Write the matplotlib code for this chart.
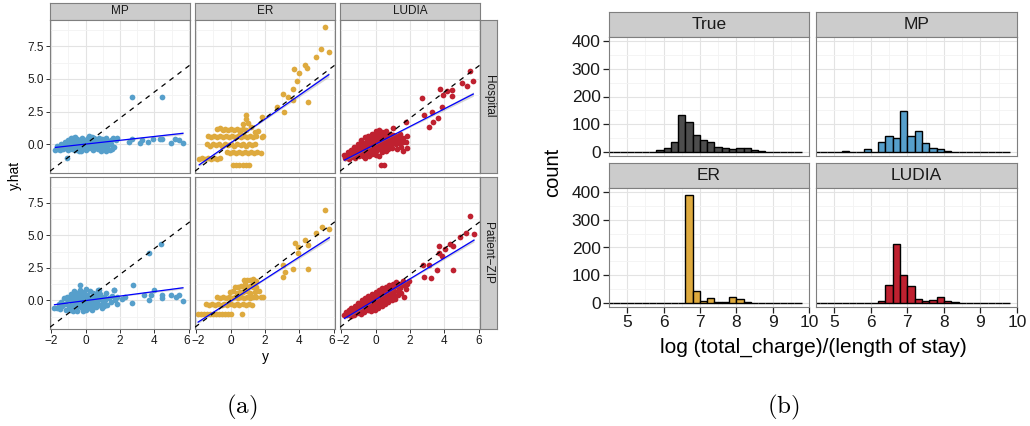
import numpy as np
import matplotlib.pyplot as plt
from matplotlib.ticker import MultipleLocator
from matplotlib.transforms import ScaledTranslation

plt.rcParams['font.family'] = ['Liberation Sans', 'DejaVu Sans']
plt.rcParams['mathtext.fontset'] = 'cm'

# ---------------- datos (a): y vs y.hat ----------------
methods = ['MP', 'ER', 'LUDIA']
levels = ['Hospital', 'Patient\u2212ZIP']
colors = {'True': '#4D4D4D', 'MP': '#569FCB', 'ER': '#DEAA3E', 'LUDIA': '#BF2130'}

mp_hospital = [(-1.75, -0.42), (-1.6, -0.35), (-1.5, -0.45), (-1.4, -0.2), (-1.3, -0.4), (-1.25, -0.1),
               (-1.15, -0.3), (-1.05, 0.1), (-1.0, -0.45), (-0.95, -0.2), (-0.9, 0.25), (-0.85, 0.0),
               (-0.8, -0.35), (-0.75, 0.45), (-0.7, -0.15), (-0.65, 0.2), (-0.6, -0.45), (-0.55, 0.05),
               (-0.5, 0.4), (-0.45, -0.25), (-0.4, 0.15), (-0.35, -0.5), (-0.3, 0.3), (-0.25, -0.05),
               (-0.2, 0.5), (-0.15, -0.3), (-0.1, 0.1), (-0.05, 0.35), (0.0, -0.45), (0.05, -0.1),
               (0.1, 0.25), (0.15, 0.5), (0.2, -0.3), (0.25, 0.05), (0.3, 0.4), (0.35, -0.2), (0.4, 0.2),
               (0.45, -0.45), (0.5, 0.45), (0.55, 0.0), (0.6, -0.25), (0.65, 0.3), (0.7, 0.1), (0.75, -0.4),
               (0.8, 0.45), (0.85, -0.1), (0.9, 0.2), (0.95, 0.4), (1.0, -0.3), (1.05, 0.0), (1.1, 0.3),
               (1.2, 0.45), (1.25, -0.15), (1.3, 0.15), (1.4, -0.45), (1.45, 0.35), (1.5, 0.05), (1.6, 0.45),
               (1.65, -0.2), (1.75, 0.3), (1.85, 0.5), (-1.0, 0.35), (-0.6, 0.55), (0.2, 0.6), (-1.2, 0.2),
               (-1.45, 0.05), (0.9, -0.5), (-0.25, -0.55), (0.4, 0.55), (1.2, -0.5), (-1.1, -1.04),
               (-1.65, -0.1), (-0.1, -0.2), (0.65, -0.05), (1.55, -0.4), (-0.85, 0.5),
               (2.7, 3.64), (4.45, 3.64), (2.7, 0.38), (3.14, 0.13), (3.62, 0.2), (3.9, 0.38), (4.3, 0.38),
               (4.45, 0.4), (4.97, 0.13), (5.2, 0.38), (5.45, 0.33), (5.65, 0.08), (3.3, 0.3), (2.5, 0.15)]

er_hospital = [(-0.8, 1.15), (-0.62, 1.22), (-0.45, 1.1), (-0.3, 1.18), (-0.12, 1.1), (0.05, 1.2), (0.22, 1.12),
               (0.4, 1.2), (0.55, 1.1), (0.72, 1.18), (0.9, 1.12),
               (-1.3, 0.6), (-1.12, 0.52), (-0.95, 0.62), (-0.78, 0.55), (-0.6, 0.62), (-0.42, 0.52),
               (-0.25, 0.6), (-0.08, 0.55), (0.1, 0.62), (0.28, 0.52), (0.45, 0.6), (0.62, 0.55), (0.8, 0.62),
               (0.98, 0.52), (1.15, 0.6), (1.3, 0.55), (1.5, 0.6), (1.85, 0.58),
               (-1.35, -0.02), (-1.18, -0.1), (-1.0, 0.0), (-0.82, -0.08), (-0.65, 0.02), (-0.48, -0.1),
               (-0.3, 0.0), (-0.12, -0.08), (0.05, 0.02), (0.22, -0.1), (0.4, 0.0), (0.58, -0.08), (0.75, 0.02),
               (0.92, -0.1), (1.1, -0.02), (1.25, -0.08), (1.42, -0.02),
               (-0.2, -0.6), (-0.02, -0.68), (0.15, -0.6), (0.32, -0.66), (0.5, -0.58), (0.68, -0.66),
               (0.85, -0.6), (1.02, -0.68), (1.2, -0.6), (1.38, -0.64), (1.55, -0.6), (1.78, -0.64),
               (-1.82, -1.1), (-1.65, -1.05), (-1.48, -1.12), (-1.3, -1.06), (-1.12, -1.12), (-0.95, -1.05),
               (-0.78, -1.1), (-0.62, -1.06),
               (0.15, -1.58), (0.33, -1.55), (0.52, -1.6), (0.7, -1.56), (0.9, -1.6), (1.1, -1.56),
               (0.89, 2.24), (0.89, 1.9), (1.03, 1.6), (0.75, 1.55), (1.2, 1.3), (1.84, 2.11), (0.55, 0.95),
               (1.4, 0.9), (1.6, 1.05), (1.9, 0.6),
               (5.47, 8.93), (5.24, 7.28), (5.7, 7.02), (4.93, 6.69), (4.31, 6.06), (4.45, 5.8), (3.69, 5.75),
               (3.95, 5.47), (3.83, 4.86), (3.64, 4.2), (3.06, 3.84), (3.35, 3.64), (3.64, 3.38), (4.5, 3.26),
               (2.71, 2.82), (3.09, 2.49)]

ludia_hospital = [(-1.8, -0.82), (-1.75, -1.02), (-1.62, -0.6), (-1.58, -0.9), (-1.55, -1.12), (-1.42, -0.42),
                  (-1.38, -0.72), (-1.4, -1.0), (-1.22, -0.2), (-1.18, -0.52), (-1.25, -0.8), (-1.2, -1.05),
                  (-1.02, 0.02), (-0.98, -0.3), (-1.05, -0.62), (-0.95, -0.88), (-0.82, 0.3), (-0.78, 0.02),
                  (-0.85, -0.28), (-0.8, -0.6), (-0.75, -0.92), (-0.62, 0.52), (-0.58, 0.2), (-0.6, -0.1),
                  (-0.65, -0.42), (-0.55, -0.7), (-0.6, -1.02), (-0.42, 0.62), (-0.38, 0.3), (-0.4, 0.0),
                  (-0.45, -0.32), (-0.35, -0.6), (-0.4, -0.9), (-0.22, 0.8), (-0.18, 0.5), (-0.2, 0.2),
                  (-0.25, -0.1), (-0.15, -0.42), (-0.2, -0.72), (0.02, 1.0), (-0.02, 0.7), (0.0, 0.4),
                  (0.05, 0.1), (-0.05, -0.2), (0.0, -0.5), (0.02, -0.8), (0.22, 1.1), (0.18, 0.8), (0.2, 0.5),
                  (0.25, 0.2), (0.15, -0.1), (0.2, -0.4), (0.22, -0.92), (0.38, 0.9), (0.42, 0.6), (0.4, 0.3),
                  (0.45, 0.0), (0.35, -0.3), (0.4, -0.62), (0.62, 1.0), (0.58, 0.7), (0.6, 0.4), (0.65, 0.1),
                  (0.55, -0.2), (0.6, -0.5), (0.82, 0.8), (0.78, 0.5), (0.8, 0.2), (0.85, -0.1), (0.75, -0.4),
                  (1.01, 1.22), (1.02, 0.7), (0.98, 0.4), (1.05, 0.1), (0.95, -0.3), (1.2, 0.6), (1.22, 0.3),
                  (1.18, 0.0), (1.25, -0.4), (1.42, 0.8), (1.38, 0.4), (1.4, 0.1), (1.45, -0.2), (1.6, 0.5),
                  (1.62, 0.2), (1.58, -0.5), (1.8, 0.6), (1.78, 0.15), (1.82, -0.3), (1.79, 1.73),
                  (0.33, -1.58), (0.52, -1.58),
                  (5.48, 5.6), (5.67, 4.86), (4.99, 4.66), (5.28, 4.45), (3.73, 4.2), (4.12, 4.1), (4.45, 4.15),
                  (3.92, 3.77), (4.41, 3.72), (2.72, 3.51), (3.83, 2.82), (2.8, 2.24), (3.63, 1.98), (3.34, 1.68),
                  (3.09, 1.35), (3.3, 2.5)]

mp_zip = [(-1.8, -0.6), (-1.65, -0.55), (-1.55, -0.3), (-1.5, -0.65), (-1.4, -0.1), (-1.35, -0.45), (-1.25, 0.15),
          (-1.2, -0.3), (-1.15, -0.7), (-1.05, 0.3), (-1.0, 0.0), (-0.98, -0.4), (-0.9, -0.75), (-0.85, 0.5),
          (-0.82, 0.2), (-0.8, -0.15), (-0.75, -0.5), (-0.68, 0.7), (-0.65, 0.35), (-0.62, 0.0), (-0.6, -0.3),
          (-0.55, -0.65), (-0.5, -0.85), (-0.48, 0.55), (-0.45, 0.15), (-0.42, -0.15), (-0.38, -0.45),
          (-0.3, 0.8), (-0.28, 0.4), (-0.25, 0.05), (-0.22, -0.3), (-0.2, -0.6), (-0.15, -0.85), (-0.1, 0.65),
          (-0.08, 0.25), (-0.05, -0.1), (0.0, -0.45), (0.02, 0.9), (0.05, -0.75), (0.1, 0.45), (0.12, 0.1),
          (0.15, -0.25), (0.2, -0.55), (0.25, 0.75), (0.3, 0.3), (0.32, -0.05), (0.35, -0.4), (0.4, -0.7),
          (0.45, 0.55), (0.5, 0.15), (0.55, -0.2), (0.6, -0.5), (0.65, 0.35), (0.7, 0.8), (0.75, 0.0),
          (0.8, -0.35), (0.85, 0.5), (0.9, 0.15), (0.95, -0.6), (1.0, -0.15), (1.05, 0.3), (1.15, 0.0),
          (1.2, 0.55), (1.25, -0.35), (1.35, 0.2), (1.45, -0.1), (1.55, 0.35), (1.65, 0.79), (1.7, 0.0),
          (1.8, -0.3), (1.85, 0.3), (-0.33, 1.22), (0.77, 0.79), (1.64, 0.79),
          (-1.1, 0.1), (-0.35, 0.25), (0.55, 0.5), (1.1, -0.45), (-0.7, -0.8),
          (2.76, 1.22), (2.72, -0.18), (3.97, 0.79), (3.68, 0.0), (3.8, 0.38), (4.43, 0.38), (4.45, 0.15),
          (4.97, 0.38), (5.26, 0.25), (5.45, 0.38), (5.65, -0.05), (4.39, 4.33), (3.66, 3.66), (2.3, 0.3),
          (2.1, 0.1), (3.4, 0.4)]

er_zip = [(0.78, 1.55), (0.95, 1.6), (1.12, 1.55), (1.3, 1.62), (1.45, 1.5),
          (0.25, 1.05), (0.42, 1.0), (0.6, 1.1), (0.78, 1.05), (0.95, 0.98), (1.12, 1.08), (1.3, 1.0),
          (1.48, 1.05), (1.65, 0.7), (0.85, 1.3), (1.32, 1.3),
          (-0.05, 0.62), (0.15, 0.7), (0.35, 0.6), (0.55, 0.68), (0.75, 0.62), (0.95, 0.7), (1.15, 0.6),
          (1.4, 0.65),
          (-0.8, 0.25), (-0.62, 0.22), (-0.45, 0.28), (-0.28, 0.22), (-0.1, 0.28), (0.08, 0.22), (0.25, 0.28),
          (0.42, 0.22), (0.6, 0.28), (0.78, 0.22), (0.95, 0.28), (1.12, 0.22), (1.3, 0.28), (1.5, 0.25),
          (1.9, 0.25), (1.75, 0.3),
          (-1.4, -0.3), (-1.22, -0.32), (-1.05, -0.28), (-0.88, -0.32), (-0.7, -0.28), (-0.52, -0.32),
          (-0.35, -0.28), (-0.18, -0.32), (0.0, -0.28), (0.18, -0.32), (0.35, -0.28), (0.52, -0.32),
          (0.7, -0.28), (0.88, -0.32), (1.05, -0.28), (1.25, -0.32),
          (-1.88, -1.07), (-1.7, -1.05), (-1.52, -1.08), (-1.35, -1.05), (-1.18, -1.08), (-1.0, -1.05),
          (-0.82, -1.08), (-0.65, -1.05), (-0.48, -1.08), (-0.3, -1.05), (-0.12, -1.08), (0.05, -1.05),
          (0.68, -1.07),
          (5.47, 6.95), (5.28, 5.62), (5.73, 5.47), (4.95, 5.22), (4.31, 4.66), (3.73, 4.45), (4.5, 4.27),
          (3.93, 4.1), (3.89, 3.64), (3.06, 2.75), (3.64, 2.44), (4.5, 2.42), (3.15, 2.16), (3.06, 1.81)]

ludia_zip = [(-1.8, -1.1), (-1.7, -0.9), (-1.65, -1.15), (-1.55, -0.75), (-1.5, -1.0), (-1.42, -1.18),
             (-1.4, -0.55), (-1.32, -0.85), (-1.25, -1.1), (-1.2, -0.4), (-1.15, -0.7), (-1.08, -0.95),
             (-1.0, -0.2), (-0.98, -0.5), (-0.92, -0.8), (-0.85, -1.05), (-0.8, 0.0), (-0.78, -0.32),
             (-0.72, -0.62), (-0.65, -0.9), (-0.6, 0.15), (-0.58, -0.15), (-0.52, -0.45), (-0.45, -0.75),
             (-0.42, 0.35), (-0.4, 0.05), (-0.35, -0.25), (-0.3, -0.55), (-0.25, -0.85), (-0.22, 0.5),
             (-0.2, 0.2), (-0.15, -0.1), (-0.1, -0.4), (-0.05, -0.7), (0.0, 0.65), (0.02, 0.35), (0.05, 0.05),
             (0.1, -0.25), (0.15, -0.55), (0.2, 0.8), (0.22, 0.5), (0.25, 0.2), (0.3, -0.1), (0.35, -0.4),
             (0.4, 0.95), (0.42, 0.65), (0.45, 0.35), (0.5, 0.05), (0.55, -0.25), (0.6, 1.05), (0.62, 0.75),
             (0.65, 0.45), (0.7, 0.15), (0.75, -0.15), (0.8, 1.2), (0.82, 0.9), (0.85, 0.6), (0.9, 0.3),
             (0.95, 0.0), (1.0, 1.3), (1.02, 1.0), (1.05, 0.7), (1.1, 0.4), (1.15, 0.1), (1.2, 1.4),
             (1.22, 1.1), (1.28, 0.75), (1.32, 0.45), (1.4, 1.3), (1.42, 0.95), (1.5, 0.6), (1.6, 1.5),
             (1.62, 1.15), (1.65, 0.25), (1.75, 0.9), (1.8, 1.3), (1.94, 1.53),
             (5.48, 6.49), (5.24, 5.22), (5.71, 5.11), (4.89, 4.86), (4.31, 4.35), (4.47, 4.2), (3.69, 4.2),
             (4.02, 3.94), (3.69, 3.64), (3.83, 3.44), (3.11, 2.72), (2.76, 2.72), (3.57, 2.37), (4.47, 2.32),
             (2.8, 1.78), (3.2, 1.73)]

scatter_data = [[mp_hospital, er_hospital, ludia_hospital],
                [mp_zip, er_zip, ludia_zip]]

# lm fit per panel: (intercept, slope, ribbon half-width at the ends)
fits = [[(0.01, 0.146, 0.10), (0.09, 0.917, 0.18), (0.006, 0.676, 0.16)],
        [(-0.016, 0.175, 0.09), (-0.065, 0.854, 0.16), (0.053, 0.803, 0.14)]]

# ---------------- datos (b): histogramas ----------------
hist_panels = ['True', 'MP', 'ER', 'LUDIA']
bin_left = [4.4, 4.6, 4.8, 5.0, 5.2, 5.4, 5.6, 5.8, 6.0, 6.2, 6.4, 6.6, 6.8, 7.0,
            7.2, 7.4, 7.6, 7.8, 8.0, 8.2, 8.4, 8.6, 8.8, 9.0, 9.2, 9.4, 9.6]
bin_width = 0.2
counts = {
    'True':  [0, 0, 0, 0, 0, 0, 0, 7, 14, 37, 135, 108, 60, 42, 38, 17, 14, 12, 15, 16, 6, 3, 1, 1, 0, 1, 0],
    'MP':    [0, 0, 2, 0, 3, 0, 0, 11, 1, 35, 59, 49, 147, 57, 76, 34, 14, 12, 5, 1, 1, 0, 1, 0, 1, 0, 0],
    'ER':    [0, 0, 0, 0, 0, 0, 0, 0, 0, 0, 0, 390, 43, 7, 17, 3, 3, 22, 15, 5, 2, 2, 1, 0, 1, 1, 0],
    'LUDIA': [0, 0, 0, 0, 0, 0, 0, 0, 1, 7, 66, 214, 100, 62, 14, 6, 12, 23, 7, 5, 1, 1, 0, 1, 0, 0, 0],
}

W, H = 1030, 426
fig = plt.figure(figsize=(W / 100, H / 100), dpi=100)

BORDER = '#7F7F7F'
STRIP = '#CCCCCC'


def add_ax(x0, y0, x1, y1):
    """Ejes en coordenadas de pixel (origen arriba a la izquierda)."""
    return fig.add_axes([x0 / W, 1 - y1 / H, (x1 - x0) / W, (y1 - y0) / H])


def strip(x0, y0, x1, y1, text, size, rot=0):
    ax = add_ax(x0, y0, x1, y1)
    ax.set_facecolor(STRIP)
    for s in ax.spines.values():
        s.set_color(BORDER)
        s.set_linewidth(0.8)
    ax.set_xticks([])
    ax.set_yticks([])
    ax.text(0.5, 0.5, text, transform=ax.transAxes, ha='center', va='center',
            size=size, rotation=rot, color='#1A1A1A')


def style_panel(ax):
    ax.set_facecolor('white')
    for s in ax.spines.values():
        s.set_color(BORDER)
        s.set_linewidth(0.8)
    ax.grid(True, which='major', color='#E3E3E3', lw=0.8)
    ax.grid(True, which='minor', color='#F3F3F3', lw=0.6)
    ax.set_axisbelow(True)
    ax.tick_params(which='minor', length=0)


# ---------------- (a) ----------------
cols_a = [(50, 190), (195, 335), (340, 480)]
rows_a = [(20, 173), (177, 329)]

for j, m in enumerate(methods):
    strip(cols_a[j][0], 3, cols_a[j][1], 20, m, 8.5)
for i, lev in enumerate(levels):
    strip(480, rows_a[i][0], 497, rows_a[i][1], lev, 8.5, rot=-90)

for i in range(2):
    for j, m in enumerate(methods):
        ax = add_ax(cols_a[j][0], rows_a[i][0], cols_a[j][1], rows_a[i][1])
        style_panel(ax)
        pts = np.array(scatter_data[i][j])
        x, y = pts[:, 0], pts[:, 1]
        ax.scatter(x, y, s=17, color=colors[m], linewidths=0, zorder=2)

        b0, b1, rib = fits[i][j]
        xs = np.linspace(x.min(), x.max(), 50)
        xm = x.mean()
        half = rib * np.sqrt(0.08 + ((xs - xm) / (x.max() - xm)) ** 2)
        ax.fill_between(xs, b0 + b1 * xs - half, b0 + b1 * xs + half, color='#999999',
                        alpha=0.4, lw=0, zorder=3)
        ax.plot(xs, b0 + b1 * xs, color='blue', lw=0.9, zorder=4)
        ax.axline((0, 0), slope=1, color='black', lw=0.9, ls=(0, (4, 4)), zorder=5)

        ax.set_xlim(-2.06, 6.06)
        ax.set_ylim(-2.2, 9.5)
        ax.set_xticks([-2, 0, 2, 4, 6])
        ax.xaxis.set_minor_locator(MultipleLocator(1))
        ax.set_yticks([0, 2.5, 5, 7.5])
        ax.yaxis.set_minor_locator(MultipleLocator(1.25))
        ax.tick_params(which='major', length=3, width=0.7, color='#333333',
                       labelsize=8.5, pad=1.5, labelcolor='#1A1A1A')
        if i == 0:
            ax.tick_params(axis='x', which='major', length=0, labelbottom=False)
        else:
            # pull apart the "6" and "-2" labels where two panels meet
            ticks = ax.xaxis.get_major_ticks()
            if j > 0:
                lab = ticks[0].label1
                lab.set_transform(lab.get_transform() + ScaledTranslation(2.5 / 100, 0, fig.dpi_scale_trans))
            if j < 2:
                lab = ticks[-1].label1
                lab.set_transform(lab.get_transform() + ScaledTranslation(-2.5 / 100, 0, fig.dpi_scale_trans))
        if j > 0:
            ax.tick_params(axis='y', which='major', length=0, labelleft=False)
        else:
            ax.set_yticklabels(['0.0', '2.5', '5.0', '7.5'])

fig.text(15 / W, 1 - 175 / H, 'y.hat', rotation=90, ha='center', va='center', size=10)
fig.text(265 / W, 1 - 357 / H, 'y', ha='center', va='center', size=10)

# ---------------- (b) ----------------
cols_b = [(609, 809), (816, 1017)]
rows_b = [(37, 156), (188, 307)]
strips_b = [(12, 37), (163, 188)]

for k, name in enumerate(hist_panels):
    i, j = divmod(k, 2)
    strip(cols_b[j][0], strips_b[i][0], cols_b[j][1], strips_b[i][1], name, 12.5)
    ax = add_ax(cols_b[j][0], rows_b[i][0], cols_b[j][1], rows_b[i][1])
    style_panel(ax)
    ax.bar(bin_left, counts[name], width=bin_width, align='edge', color=colors[name],
           edgecolor='black', linewidth=1.0, zorder=2)
    ax.set_xlim(4.5, 10.0)
    ax.set_ylim(-14, 414)
    ax.xaxis.set_major_locator(MultipleLocator(1))
    ax.xaxis.set_minor_locator(MultipleLocator(0.5))
    ax.yaxis.set_major_locator(MultipleLocator(100))
    ax.yaxis.set_minor_locator(MultipleLocator(50))
    ax.tick_params(which='major', length=4, width=0.9, color='#222222',
                   labelsize=12.5, pad=2, labelcolor='#1A1A1A')
    if i == 0:
        ax.tick_params(axis='x', which='major', length=0, labelbottom=False)
    if j > 0:
        ax.tick_params(axis='y', which='major', length=0, labelleft=False)

fig.text(553 / W, 1 - 172 / H, 'count', rotation=90, ha='center', va='center', size=14.5)
fig.text(813 / W, 1 - 347 / H, 'log (total_charge)/(length of stay)', ha='center',
         va='center', size=15)

# captions
fig.text(242 / W, 1 - 407 / H, r'$\mathrm{(a)}$', ha='center', va='center', size=18)
fig.text(783 / W, 1 - 407 / H, r'$\mathrm{(b)}$', ha='center', va='center', size=18)

fig.savefig('out.png', dpi=100)
